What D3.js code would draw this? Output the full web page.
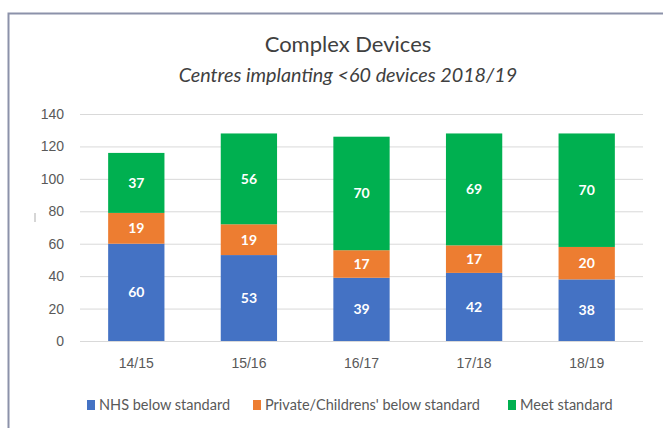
<!DOCTYPE html>
<meta charset="utf-8">
<style>
body { margin: 0; background: #fff; font-family: Lato, "Open Sans", sans-serif; }
.tick text { fill: #595959; font-size: 14px; }
.grid line { stroke: #d9d9d9; stroke-width: 1px; }
.lbl { fill: #fff; font-size: 14px; font-weight: bold; text-anchor: middle; }
.legend text { fill: #595959; font-size: 14.5px; }
</style>
<body>
<div id="chart"></div>
<script src="https://cdn.jsdelivr.net/npm/d3@7"></script>
<script>
// values
var years = ["14/15", "15/16", "16/17", "17/18", "18/19"];
var nhs = [60, 53, 39, 42, 38];
var priv = [19, 19, 17, 17, 20];
var meet = [37, 56, 70, 69, 70];
var seriesNames = ["NHS below standard", "Private/Childrens' below standard", "Meet standard"];
var colours = ["#4472c4", "#ed7d31", "#00b050"];
var yTicks = [0, 20, 40, 60, 80, 100, 120, 140];

var W = 663, H = 428;
var margin = {top: 114, right: 20, bottom: 87, left: 80};

var svg = d3.select("#chart").append("svg")
    .attr("width", W)
    .attr("height", H);

// frame
svg.append("path")
    .attr("d", "M8.5," + H + "V13.5H" + W)
    .attr("fill", "none")
    .attr("stroke", "#8c92aa")
    .attr("stroke-width", 2);
svg.append("line")
    .attr("x1", 35).attr("x2", 35).attr("y1", 213).attr("y2", 222)
    .attr("stroke", "#c8c8c8").attr("stroke-width", 1.5);

svg.append("text")
    .attr("x", 348).attr("y", 52)
    .attr("text-anchor", "middle")
    .attr("fill", "#404040")
    .style("font-size", "22px")
    .text("Complex Devices");
svg.append("text")
    .attr("x", 348).attr("y", 82)
    .attr("text-anchor", "middle")
    .attr("fill", "#404040")
    .style("font-size", "19.8px")
    .style("font-style", "italic")
    .text("Centres implanting <60 devices 2018/19");

var x = d3.scaleBand()
    .domain(years)
    .range([margin.left, W - margin.right])
    .paddingInner(0.5)
    .paddingOuter(0.25);

var y = d3.scaleLinear()
    .domain([0, 140])
    .range([H - margin.bottom, margin.top]);

// gridlines
svg.append("g")
    .attr("class", "grid")
    .selectAll("line")
    .data(yTicks)
  .enter().append("line")
    .attr("x1", margin.left)
    .attr("x2", W - margin.right)
    .attr("y1", function(d) { return y(d) + 0.5; })
    .attr("y2", function(d) { return y(d) + 0.5; });

var yAxis = svg.append("g")
    .attr("transform", "translate(" + (margin.left - 13) + ",0)")
    .call(d3.axisLeft(y).tickValues(yTicks).tickSize(0));
yAxis.select(".domain").remove();

var xAxis = svg.append("g")
    .attr("transform", "translate(0," + (H - margin.bottom + 14) + ")")
    .call(d3.axisBottom(x).tickSize(0));
xAxis.select(".domain").remove();

var rows = years.map(function(yr, i) {
  return {year: yr, nhs: nhs[i], priv: priv[i], meet: meet[i]};
});
var stack = d3.stack().keys(["nhs", "priv", "meet"])(rows);

var layers = svg.selectAll(".layer")
    .data(stack)
  .enter().append("g")
    .attr("class", "layer")
    .attr("fill", function(d, i) { return colours[i]; });

layers.selectAll("rect")
    .data(function(d) { return d; })
  .enter().append("rect")
    .attr("x", function(d) { return x(d.data.year); })
    .attr("width", x.bandwidth())
    .attr("y", function(d) { return y(d[1]); })
    .attr("height", function(d) { return y(d[0]) - y(d[1]); });

layers.selectAll("text")
    .data(function(d) { return d; })
  .enter().append("text")
    .attr("class", "lbl")
    .attr("x", function(d) { return x(d.data.year) + x.bandwidth() / 2; })
    .attr("y", function(d) { return (y(d[0]) + y(d[1])) / 2; })
    .attr("dy", "0.35em")
    .text(function(d) { return d[1] - d[0]; });

// legend
var legendX = [87, 253, 508];
var legend = svg.append("g").attr("class", "legend")
    .selectAll("g")
    .data(seriesNames)
  .enter().append("g")
    .attr("transform", function(d, i) { return "translate(" + legendX[i] + ",405)"; });
legend.append("rect")
    .attr("x", 0).attr("y", -5)
    .attr("width", 8).attr("height", 10)
    .attr("fill", function(d, i) { return colours[i]; });
legend.append("text")
    .attr("x", 12)
    .attr("dy", "0.35em")
    .text(function(d) { return d; });
</script>
</body>
